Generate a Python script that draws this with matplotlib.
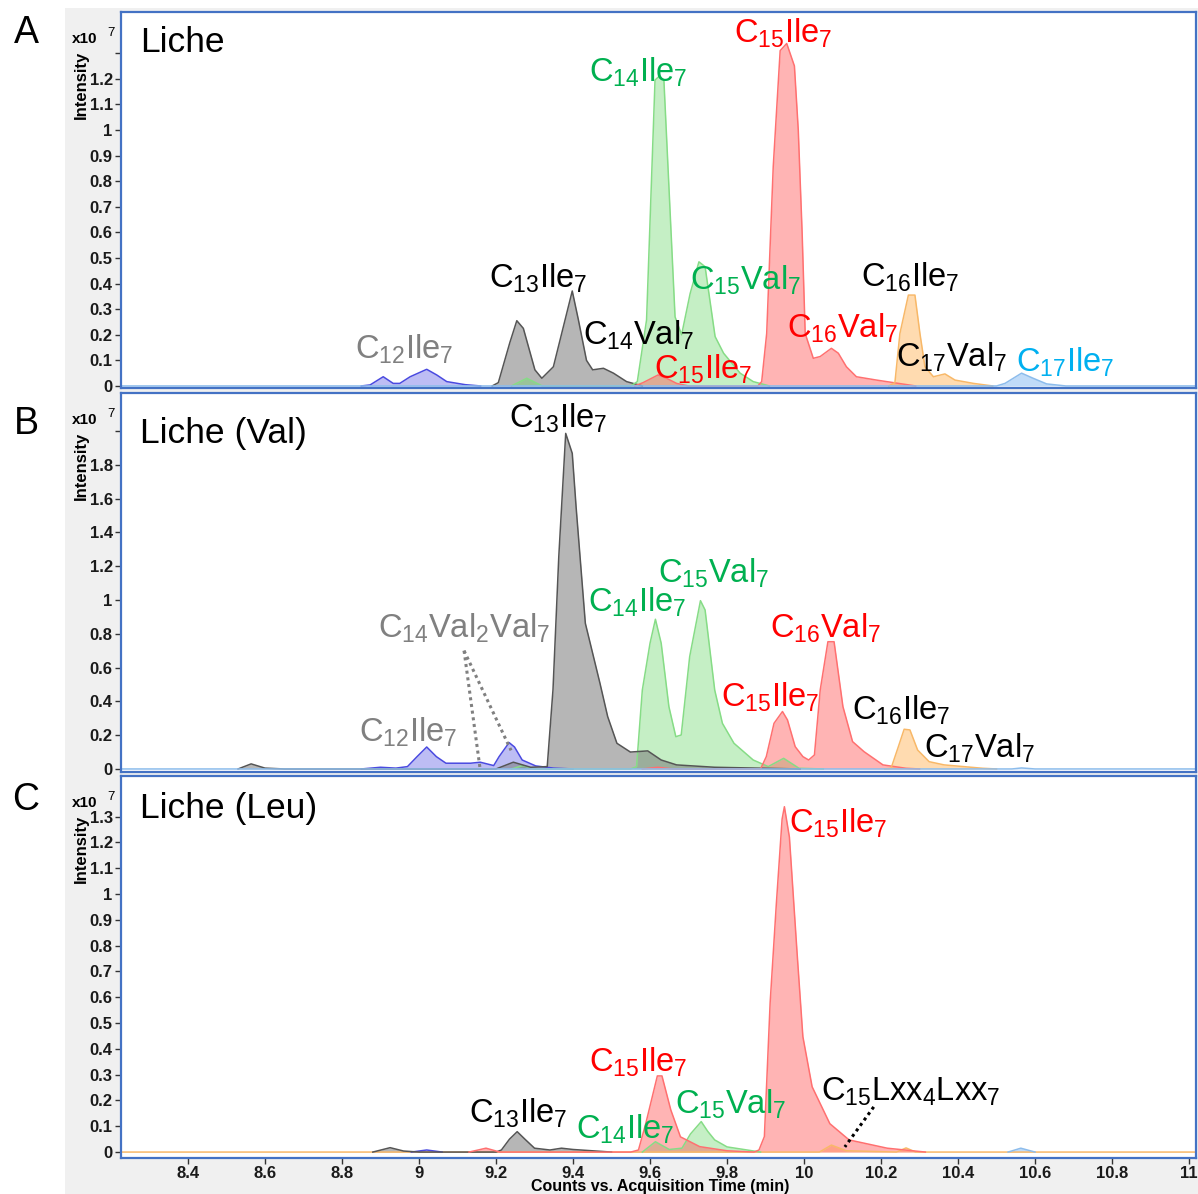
"""
Extracted ion chromatograms of lichenysin variants: Liche, Liche (Val), Liche (Leu).
Three stacked panels that share one time axis.
"""
import numpy as np
import matplotlib
matplotlib.use("Agg")
import matplotlib.pyplot as plt
from matplotlib.patches import Rectangle

plt.rcParams.update({
    "font.family": ["Liberation Sans", "DejaVu Sans"],
    "mathtext.fontset": "custom",
    "mathtext.rm": "Liberation Sans",
    "mathtext.it": "Liberation Sans:italic",
    "mathtext.bf": "Liberation Sans:bold",
})

# ═══════════════════════════════════════════════════════════
# Data (time in min, intensity in 1e7 counts)
# ═══════════════════════════════════════════════════════════
X_RANGE = (8.226, 11.018)
X_TICKS = [8.4, 8.6, 8.8, 9.0, 9.2, 9.4, 9.6, 9.8, 10.0, 10.2, 10.4, 10.6, 10.8, 11.0]

# --- panel A: Liche
A_blue_t = [8.85, 8.873, 8.907, 8.933, 8.95, 8.977, 9.02, 9.046, 9.072, 9.12, 9.16]
A_blue_i = [0.0, 0.004, 0.036, 0.01, 0.01, 0.036, 0.065, 0.043, 0.017, 0.005, 0.0]
A_gray_t = [9.19, 9.206, 9.236, 9.254, 9.271, 9.301, 9.319, 9.349, 9.375, 9.398, 9.414,
            9.435, 9.451, 9.479, 9.505, 9.539, 9.58]
A_gray_i = [0.0, 0.013, 0.17, 0.255, 0.225, 0.063, 0.03, 0.075, 0.232, 0.371, 0.258,
            0.10, 0.063, 0.069, 0.05, 0.017, 0.0]
A_green_t = [9.24, 9.28, 9.32, 9.55, 9.567, 9.591, 9.613, 9.624, 9.636, 9.665, 9.682,
             9.704, 9.727, 9.743, 9.769, 9.791, 9.834, 9.868, 9.91]
A_green_i = [0.0, 0.03, 0.0, 0.0, 0.017, 0.258, 1.195, 1.21, 1.195, 0.27, 0.20,
             0.36, 0.485, 0.466, 0.193, 0.128, 0.05, 0.017, 0.0]
A_red_t = [9.56, 9.582, 9.621, 9.643, 9.669, 9.70, 9.88, 9.89, 9.903, 9.92, 9.938, 9.955,
           9.975, 9.985, 9.995, 10.003, 10.024, 10.042, 10.071, 10.089, 10.11, 10.136,
           10.188, 10.232, 10.29]
A_red_i = [0.0, 0.013, 0.043, 0.03, 0.01, 0.0, 0.0, 0.017, 0.205, 0.857, 1.31, 1.338,
           1.25, 1.0, 0.6, 0.205, 0.108, 0.115, 0.147, 0.128, 0.075, 0.036,
           0.023, 0.013, 0.0]
A_orange_t = [10.22, 10.236, 10.249, 10.271, 10.288, 10.301, 10.314, 10.336, 10.366,
              10.392, 10.44, 10.49]
A_orange_i = [0.0, 0.013, 0.205, 0.355, 0.355, 0.205, 0.075, 0.036, 0.047,
              0.023, 0.01, 0.0]
A_sky_t = [8.226, 10.50, 10.522, 10.565, 10.595, 10.63, 10.68, 11.018]
A_sky_i = [0.0, 0.0, 0.01, 0.05, 0.03, 0.008, 0.0, 0.0]
A_YTICKS = [0.0, 0.1, 0.2, 0.3, 0.4, 0.5, 0.6, 0.7, 0.8, 0.9, 1.0, 1.1, 1.2, 1.3]

# --- panel B: Liche (Val)
B_blue_t = [8.85, 8.90, 8.94, 8.97, 8.995, 9.02, 9.045, 9.07, 9.134, 9.159, 9.194, 9.208,
            9.234, 9.248, 9.268, 9.303, 9.35, 9.40]
B_blue_i = [0.0, 0.01, 0.005, 0.014, 0.073, 0.13, 0.073, 0.034, 0.034, 0.04, 0.02, 0.073,
            0.156, 0.13, 0.053, 0.018, 0.005, 0.0]
B_gray_t = [8.53, 8.564, 8.60, 8.65, 9.20, 9.245, 9.29, 9.333, 9.348, 9.363, 9.381, 9.398,
            9.408, 9.432, 9.47, 9.49, 9.514, 9.549, 9.594, 9.629, 9.669, 9.768, 9.99]
B_gray_i = [0.0, 0.03, 0.005, 0.0, 0.0, 0.04, 0.01, 0.014, 0.47, 1.256, 1.986, 1.868,
            1.55, 0.862, 0.507, 0.31, 0.152, 0.10, 0.107, 0.053, 0.024, 0.01, 0.0]
B_green_t = [9.24, 9.27, 9.30, 9.55, 9.565, 9.58, 9.60, 9.614, 9.629, 9.649, 9.667, 9.681,
             9.703, 9.731, 9.743, 9.768, 9.788, 9.818, 9.868, 9.907, 9.947, 9.987, 10.05]
B_green_i = [0.0, 0.02, 0.0, 0.0, 0.014, 0.467, 0.744, 0.886, 0.744, 0.369, 0.191, 0.201,
             0.665, 0.996, 0.941, 0.467, 0.27, 0.152, 0.053, 0.014, 0.063, 0.004, 0.0]
B_red_t = [9.58, 9.62, 9.66, 9.887, 9.902, 9.922, 9.944, 9.957, 9.977, 9.997, 10.012,
           10.027, 10.042, 10.062, 10.078, 10.101, 10.126, 10.156, 10.205, 10.265, 10.30]
B_red_i = [0.0, 0.01, 0.0, 0.0, 0.073, 0.27, 0.34, 0.29, 0.132, 0.073, 0.053,
           0.083, 0.467, 0.753, 0.753, 0.369, 0.162, 0.102, 0.024, 0.004, 0.0]
B_orange_t = [10.21, 10.226, 10.245, 10.26, 10.275, 10.295, 10.325, 10.364, 10.464, 10.50]
B_orange_i = [0.0, 0.004, 0.132, 0.235, 0.231, 0.112, 0.043, 0.024, 0.004, 0.0]
B_sky_t = [8.226, 10.54, 10.565, 10.60, 11.018]
B_sky_i = [0.0, 0.0, 0.006, 0.0, 0.0]
B_YTICKS = [0.0, 0.2, 0.4, 0.6, 0.8, 1.0, 1.2, 1.4, 1.6, 1.8, 2.0]

# --- panel C: Liche (Leu)
C_blue_t = [8.98, 9.02, 9.06]
C_blue_i = [0.0, 0.008, 0.0]
C_gray_t = [8.88, 8.925, 8.96, 9.0, 9.20, 9.214, 9.235, 9.255, 9.275, 9.30, 9.34, 9.37,
            9.40, 9.45, 9.50]
C_gray_i = [0.0, 0.017, 0.004, 0.0, 0.0, 0.008, 0.05, 0.079, 0.05, 0.015, 0.008, 0.015,
            0.01, 0.005, 0.0]
C_green_t = [9.58, 9.614, 9.65, 9.683, 9.705, 9.733, 9.75, 9.768, 9.80, 9.887]
C_green_i = [0.0, 0.04, 0.01, 0.015, 0.07, 0.118, 0.08, 0.047, 0.02, 0.0]
C_red_t = [9.13, 9.174, 9.21, 9.55, 9.57, 9.589, 9.619, 9.631, 9.654, 9.679, 9.729, 9.80,
           9.87, 9.883, 9.897, 9.912, 9.928, 9.943, 9.949, 9.962, 9.982, 9.997, 10.021,
           10.067, 10.117, 10.216, 10.315]
C_red_i = [0.0, 0.015, 0.0, 0.0, 0.008, 0.111, 0.295, 0.295, 0.163, 0.059, 0.021, 0.005,
           0.0, 0.008, 0.06, 0.58, 0.96, 1.29, 1.338, 1.22, 0.77, 0.447, 0.253,
           0.11, 0.047, 0.015, 0.0]
C_orange_t = [8.226, 10.04, 10.071, 10.11, 10.24, 10.265, 10.29, 11.018]
C_orange_i = [0.0, 0.0, 0.027, 0.005, 0.0, 0.016, 0.0, 0.0]
C_sky_t = [10.53, 10.563, 10.60]
C_sky_i = [0.0, 0.015, 0.0]
C_YTICKS = [0.0, 0.1, 0.2, 0.3, 0.4, 0.5, 0.6, 0.7, 0.8, 0.9, 1.0, 1.1, 1.2, 1.3]

# ═══════════════════════════════════════════════════════════
# Style
# ═══════════════════════════════════════════════════════════
W, H = 1198, 1194
FRAME = "#4472c4"
BG_GRAY = "#f0f0f0"
TRACE = {  # fill colour, line colour, fill alpha
    "blue": ("#6e6ee8", "#4a4ae0", 0.45),
    "gray": ("#7a7a7a", "#555555", 0.55),
    "green": ("#6fd86f", "#86dc86", 0.40),
    "red": ("#ff5a5a", "#ff7070", 0.45),
    "orange": ("#ffaa44", "#f8b868", 0.42),
    "sky": ("#6aaaf0", "#8cbcec", 0.42),
}
LBL = {"green": "#00b050", "red": "#ff0000", "gray": "#808080",
       "black": "#000000", "sky": "#00b0f0"}


def px_rect(x0, y0, x1, y1):
    """pixel box (top-left origin) -> figure fraction rect"""
    return [x0 / W, 1 - y1 / H, (x1 - x0) / W, (y1 - y0) / H]


def sub(s):
    return r"$\mathregular{" + s + "}$"


fig = plt.figure(figsize=(W / 100, H / 100), dpi=100)
fig.patches.append(Rectangle((65 / W, 0), 1 - 65 / W, 1 - 8 / H,
                             transform=fig.transFigure, facecolor=BG_GRAY,
                             edgecolor="none", zorder=-10))

PANELS = [
    dict(box=(121, 12, 1196, 388), ylim=(-0.008, 1.461), yticks=A_YTICKS,
         hidden=[1.3], letter="A", letter_y=33, title="Liche", title_y=0.894,
         traces=[("blue", A_blue_t, A_blue_i), ("gray", A_gray_t, A_gray_i),
                 ("green", A_green_t, A_green_i), ("red", A_red_t, A_red_i),
                 ("orange", A_orange_t, A_orange_i), ("sky", A_sky_t, A_sky_i)],
         labels=[("C_{12}Ile_7", 8.961, 0.105, "gray"),
                 ("C_{13}Ile_7", 9.309, 0.383, "black"),
                 ("C_{14}Ile_7", 9.569, 1.19, "green"),
                 ("C_{14}Val_7", 9.569, 0.16, "black"),
                 ("C_{15}Ile_7", 9.738, 0.03, "red"),
                 ("C_{15}Val_7", 9.847, 0.375, "green"),
                 ("C_{15}Ile_7", 9.945, 1.34, "red"),
                 ("C_{16}Val_7", 10.099, 0.1875, "red"),
                 ("C_{16}Ile_7", 10.275, 0.387, "black"),
                 ("C_{17}Val_7", 10.384, 0.074, "black"),
                 ("C_{17}Ile_7", 10.678, 0.055, "sky")],
         leaders=[]),
    dict(box=(121, 393, 1196, 772), ylim=(-0.018, 2.225), yticks=B_YTICKS,
         hidden=[2.0], letter="B", letter_y=424, title="Liche (Val)", title_y=0.868,
         traces=[("blue", B_blue_t, B_blue_i), ("green", B_green_t, B_green_i),
                 ("gray", B_gray_t, B_gray_i), ("red", B_red_t, B_red_i),
                 ("orange", B_orange_t, B_orange_i), ("sky", B_sky_t, B_sky_i)],
         labels=[("C_{12}Ile_7", 8.971, 0.16, "gray"),
                 ("C_{14}Val_2Val_7", 9.117, 0.78, "gray"),
                 ("C_{13}Ile_7", 9.361, 2.02, "black"),
                 ("C_{14}Ile_7", 9.566, 0.93, "green"),
                 ("C_{15}Val_7", 9.766, 1.10, "green"),
                 ("C_{15}Ile_7", 9.912, 0.367, "red"),
                 ("C_{16}Val_7", 10.055, 0.775, "red"),
                 ("C_{16}Ile_7", 10.252, 0.29, "black"),
                 ("C_{17}Val_7", 10.455, 0.07, "black")],
         leaders=[((9.117, 0.70), (9.158, 0.012), "#808080"),
                  ((9.117, 0.70), (9.239, 0.11), "#808080")]),
    dict(box=(121, 776, 1196, 1158), ylim=(-0.023, 1.457), yticks=C_YTICKS,
         hidden=[], letter="C", letter_y=800, title="Liche (Leu)", title_y=0.89,
         traces=[("orange", C_orange_t, C_orange_i), ("blue", C_blue_t, C_blue_i),
                 ("gray", C_gray_t, C_gray_i), ("green", C_green_t, C_green_i),
                 ("red", C_red_t, C_red_i), ("sky", C_sky_t, C_sky_i)],
         labels=[("C_{13}Ile_7", 9.257, 0.116, "black"),
                 ("C_{14}Ile_7", 9.535, 0.054, "green"),
                 ("C_{15}Ile_7", 9.569, 0.31, "red"),
                 ("C_{15}Val_7", 9.81, 0.15, "green"),
                 ("C_{15}Ile_7", 10.088, 1.236, "red"),
                 ("C_{15}Lxx_4Lxx_7", 10.278, 0.20, "black")],
         leaders=[((10.181, 0.175), (10.106, 0.02), "#000000")]),
]

tick_font = dict(family=["Liberation Sans Narrow", "Liberation Sans"], weight="bold")

for k, p in enumerate(PANELS):
    ax = fig.add_axes(px_rect(*p["box"]))
    ax.set_zorder(1)
    ax.set_xlim(*X_RANGE)
    ax.set_ylim(*p["ylim"])
    ax.set_facecolor("white")
    for s in ax.spines.values():
        s.set_color(FRAME)
        s.set_linewidth(1.6)

    for name, t, y in p["traces"]:
        fc, lc, a = TRACE[name]
        ax.fill_between(t, 0, y, color=fc, alpha=a, linewidth=0)
        ax.plot(t, y, color=lc, linewidth=1.1)

    for txt, t, y, c in p["labels"]:
        ax.text(t, y, sub(txt), ha="center", va="baseline", fontsize=23.5,
                color=LBL[c])
    for (x0, y0), (x1, y1), c in p["leaders"]:
        ax.plot([x0, x1], [y0, y1], color=c, linestyle=(0, (1, 1.2)),
                linewidth=2.2)

    ax.text(0.018, p["title_y"], p["title"], transform=ax.transAxes,
            fontsize=25.5, ha="left", va="baseline")

    ax.set_yticks(p["yticks"])
    ax.set_yticklabels(["" if v in p["hidden"] else f"{v:g}" for v in p["yticks"]],
                       fontdict=dict(tick_font, size=12), color="#1a1a1a")
    ax.tick_params(axis="y", length=4, width=1, pad=2, color="#333333")
    ax.set_xticks(X_TICKS)
    if k == 2:
        ax.set_xticklabels([f"{v:g}" for v in X_TICKS],
                           fontdict=dict(tick_font, size=12), color="#1a1a1a")
        ax.tick_params(axis="x", length=4, width=1, pad=2, color="#333333")
    else:
        ax.tick_params(axis="x", length=0, labelbottom=False)

    # panel letter, intensity label and exponent
    top = p["box"][1]
    fig.text(26 / W, 1 - p["letter_y"] / H, p["letter"], fontsize=27,
             ha="center", va="center")
    fig.text(72 / W, 1 - (top + 31) / H, "x10", fontsize=11, ha="left",
             va="baseline", **tick_font)
    fig.text(107 / W, 1 - (top + 24) / H, "7", fontsize=9.5, ha="left",
             va="baseline", family=["Liberation Sans"])
    fig.text(81 / W, 1 - (top + 73) / H, "Intensity", rotation=90, fontsize=12,
             ha="center", va="center", **tick_font)

fig.text(660 / W, 1 - 1187 / H, "Counts vs. Acquisition Time (min)", fontsize=11.5,
         ha="center", va="center", **tick_font)

fig.savefig("out.png", dpi=100)
plt.close(fig)
